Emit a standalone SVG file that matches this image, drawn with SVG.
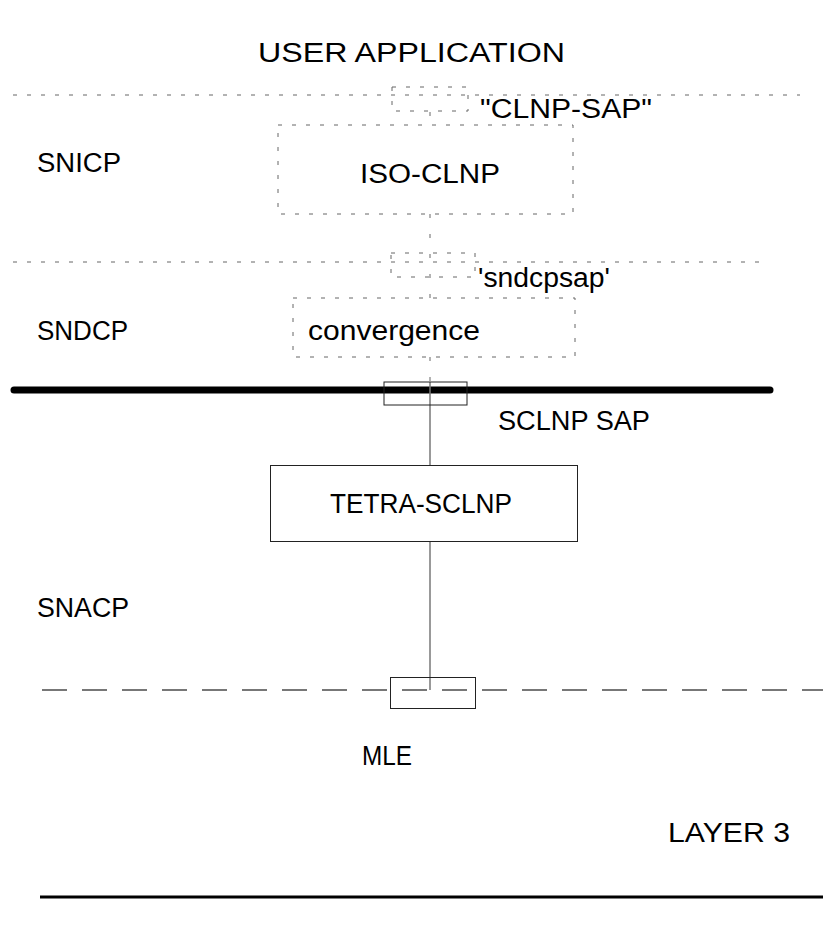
<svg xmlns="http://www.w3.org/2000/svg" width="823" height="926" viewBox="0 0 823 926">
<style>
text{font-family:"Liberation Sans",Arial,sans-serif;font-size:27px;fill:#000}
.dl{stroke:#666;stroke-width:1;fill:none;stroke-dasharray:4 10}
.dv{stroke:#666;stroke-width:1;fill:none;stroke-dasharray:4 16}
.sv{stroke:#777;stroke-width:1.5;fill:none}
.box{stroke:#222;stroke-width:1;fill:none}
</style>
<rect width="823" height="926" fill="#fff"/>
<g id="labels">
<text x="258" y="62" textLength="307" lengthAdjust="spacingAndGlyphs">USER APPLICATION</text>
<text x="37" y="172" textLength="84" lengthAdjust="spacingAndGlyphs">SNICP</text>
<text x="37" y="340" textLength="91" lengthAdjust="spacingAndGlyphs">SNDCP</text>
<text x="37" y="617" textLength="92" lengthAdjust="spacingAndGlyphs">SNACP</text>
<text x="362" y="765" textLength="50" lengthAdjust="spacingAndGlyphs">MLE</text>
<text x="668" y="842" textLength="122" lengthAdjust="spacingAndGlyphs">LAYER 3</text>
</g>
<g id="layer-lines">
<line class="dl" x1="13" y1="95" x2="800" y2="95"/>
<line class="dl" x1="13" y1="262" x2="760" y2="262"/>
<line x1="14" y1="390" x2="770" y2="390" stroke="#000" stroke-width="7" stroke-linecap="round"/>
<line x1="42" y1="690" x2="823" y2="690" stroke="#777" stroke-width="2" stroke-dasharray="25 15"/>
<line x1="40" y1="897" x2="823" y2="897" stroke="#000" stroke-width="3"/>
</g>
<g id="connectors">
<line class="dv" x1="430" y1="112" x2="430" y2="125"/>
<line class="dv" x1="430" y1="214" x2="430" y2="298"/>
<line class="dv" x1="430" y1="357" x2="430" y2="382"/>
<line class="sv" x1="430" y1="382" x2="430" y2="465"/>
<line class="sv" x1="430" y1="541" x2="430" y2="690"/>
</g>
<g id="clnp-sap">
<rect class="dl" x="392" y="87" width="76" height="24"/>
<text x="480" y="118" textLength="172" lengthAdjust="spacingAndGlyphs">"CLNP-SAP"</text>
</g>
<g id="iso-clnp">
<rect class="dl" x="278" y="125" width="295" height="89"/>
<text x="360" y="183" textLength="140" lengthAdjust="spacingAndGlyphs">ISO-CLNP</text>
</g>
<g id="sndcpsap">
<rect class="dl" x="391" y="253" width="84" height="24"/>
<text x="478" y="287" textLength="132" lengthAdjust="spacingAndGlyphs">'sndcpsap'</text>
</g>
<g id="convergence">
<rect class="dl" x="293" y="298" width="282" height="59"/>
<text x="308" y="340" textLength="172" lengthAdjust="spacingAndGlyphs">convergence</text>
</g>
<g id="sclnp-sap">
<rect class="box" x="384" y="382" width="83" height="23"/>
<text x="498" y="430" textLength="152" lengthAdjust="spacingAndGlyphs">SCLNP SAP</text>
</g>
<g id="tetra-sclnp">
<rect class="box" x="270.5" y="465.5" width="307" height="76"/>
<text x="330" y="513" textLength="182" lengthAdjust="spacingAndGlyphs">TETRA-SCLNP</text>
</g>
<g id="mle-sap">
<rect class="box" x="390.5" y="677.5" width="85" height="31"/>
</g>
</svg>
